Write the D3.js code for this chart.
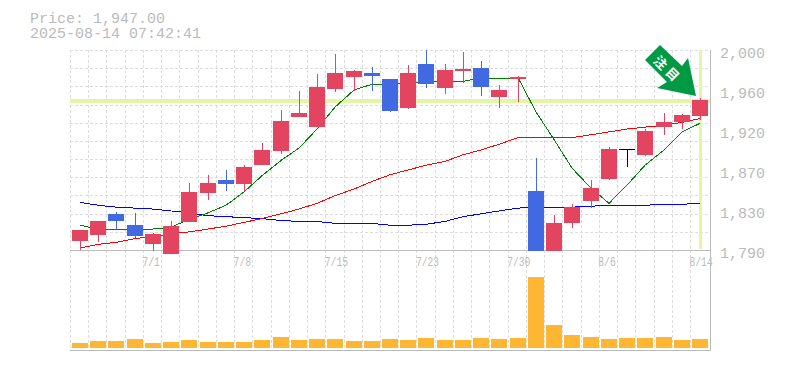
<!DOCTYPE html>
<html>
<head>
<meta charset="utf-8">
<script src="https://cdn.jsdelivr.net/npm/d3@7"></script>
<style>
  html, body { margin: 0; padding: 0; background: #fff; }
  svg { display: block; }
  text { font-family: "Liberation Mono", monospace; fill: #bbb; }
</style>
</head>
<body>
<svg id="chart" width="785" height="370"></svg>
<script>
// daily candles
const dates = ["6/25","6/26","6/27","6/30","7/1","7/2","7/3","7/4","7/7","7/8","7/9","7/10","7/11","7/14","7/15","7/16","7/17","7/18","7/22","7/23","7/24","7/25","7/28","7/29","7/30","7/31","8/1","8/4","8/5","8/6","8/7","8/8","8/12","8/13","8/14"];
const opens  = [1799,1806,1828,1816,1796,1786,1819,1850,1864,1859,1879,1894,1930,1919,1959,1972,1976,1970,1939,1985,1960,1978,1981,1951,1970,1852,1789,1818,1841,1865,1896,1890,1919,1924,1931];
const highs  = [1811,1820,1830,1829,1808,1820,1860,1869,1874,1879,1902,1937,1957,1975,1996,1979,1982,1970,1984,2000,1985,1998,1988,1963,1973,1887,1827,1838,1864,1898,1896,1917,1934,1933,1950];
const lows   = [1790,1798,1812,1803,1789,1786,1819,1842,1852,1852,1879,1891,1930,1919,1956,1957,1957,1935,1938,1960,1954,1965,1952,1939,1945,1789,1789,1813,1834,1864,1877,1889,1911,1917,1926];
const closes = [1811,1820,1820,1805,1807,1815,1851,1860,1859,1877,1895,1925,1934,1961,1976,1978,1973,1936,1976,1964,1979,1980,1961,1958,1972,1789,1818,1835,1855,1896,1896,1915,1924,1932,1947];

// moving averages
const maShort = [1816,1812,1812,1812,1812,1814,1822,1829,1837,1851,1868,1884,1897,1917,1940,1958,1964,1964,1966,1966,1967,1967,1971,1970,1971,1935,1906,1876,1855,1839,1858,1879,1895,1914,1923];
const maMid   = [1792,1796,1798,1802,1804,1807,1809,1812,1815,1819,1823,1828,1833,1839,1847,1854,1862,1869,1874,1879,1883,1890,1895,1901,1908,1908,1908,1908,1911,1914,1917,1919,1921,1924,1928];
const maLong  = [1840,1837,1835,1834,1833,1831,1829,1826,1825,1824,1823,1821,1820,1820,1818,1818,1818,1816,1816,1817,1820,1825,1828,1831,1834,1835,1835,1835,1836,1837,1837,1837,1838,1838,1839];

const volumes = [50,70,70,90,50,60,80,60,60,60,80,110,80,90,90,70,70,90,80,100,80,80,100,90,100,710,230,130,110,90,100,100,110,80,90];

const lastPrice = 1947;
const stamp = "2025-08-14 07:42:41";
const xLabels = ["7/1","7/8","7/15","7/23","7/30","8/6","8/14"];
const yTicks = [2000,1958,1916,1874,1832,1790];

// the chart dimensions
const left = 70, right = 710;
const priceTop = 50, priceBottom = 250;
const volBottom = 348, panelBottom = 350;
const candleWidth = 16;

const upColor = "#e34460";
const downColor = "#4169e1";
const gridColor = "#ddd";
const axisColor = "#bbb";
const markColor = "#e4f5a6";

const svg = d3.select("#chart");

// x is the left edge of each day's slot
const x = d3.scalePoint().domain(d3.range(dates.length)).range([left, 690]);
const y = d3.scaleLinear().domain([1790, 2000]).range([priceBottom, priceTop]);
const yVol = d3.scaleLinear().domain([0, 1000]).range([volBottom, volBottom - 100]);

const candleLeft = i => Math.round(x(i)) + 2;
const center = i => candleLeft(i) + candleWidth / 2;

// grid, dashed
const gGrid = svg.append("g")
    .attr("stroke", gridColor)
    .attr("stroke-dasharray", "3,2")
    .attr("shape-rendering", "crispEdges");

gGrid.selectAll(".v").data(d3.range(dates.length))
  .join("line").attr("class", "v")
    .attr("x1", d => Math.round(x(d)) + 0.5)
    .attr("x2", d => Math.round(x(d)) + 0.5)
    .attr("y1", priceTop).attr("y2", panelBottom);

gGrid.selectAll(".h").data(d3.range(11))
  .join("line").attr("class", "h")
    .attr("x1", left).attr("x2", right)
    .attr("y1", d => Math.round(priceTop + d * (priceBottom - priceTop) / 11) + 0.5)
    .attr("y2", d => Math.round(priceTop + d * (priceBottom - priceTop) / 11) + 0.5);

// current price and latest day markers
svg.append("rect")
    .attr("x", left).attr("width", right - left)
    .attr("y", Math.round(y(lastPrice)) - 1).attr("height", 4)
    .attr("fill", markColor);
svg.append("rect")
    .attr("x", center(dates.length - 1) - 1).attr("width", 3)
    .attr("y", priceTop).attr("height", priceBottom - priceTop - 1)
    .attr("fill", markColor);

// solid axis lines
const gAxis = svg.append("g").attr("stroke", axisColor).attr("shape-rendering", "crispEdges");
gAxis.append("line").attr("x1", left).attr("x2", right).attr("y1", priceBottom + 0.5).attr("y2", priceBottom + 0.5);
gAxis.append("line").attr("x1", left).attr("x2", right).attr("y1", panelBottom + 0.5).attr("y2", panelBottom + 0.5);
gAxis.append("line").attr("x1", right + 0.5).attr("x2", right + 0.5).attr("y1", priceTop).attr("y2", panelBottom + 1);

// moving average lines
const maLine = d3.line().x((d, i) => center(i)).y(d => y(d));
[[maLong, "#0000ff"], [maMid, "#ff0000"], [maShort, "#008000"]].forEach(([values, color]) => {
  svg.append("path")
      .attr("d", maLine(values))
      .attr("fill", "none")
      .attr("stroke", color)
      .attr("stroke-width", 1)
      .attr("shape-rendering", "crispEdges");
});

// candles
const candleColor = i => closes[i] > opens[i] ? upColor : closes[i] < opens[i] ? downColor : "#000";
const gCandle = svg.append("g").attr("shape-rendering", "crispEdges");

gCandle.selectAll("line").data(d3.range(dates.length))
  .join("line")
    .attr("x1", d => center(d) + 0.5)
    .attr("x2", d => center(d) + 0.5)
    .attr("y1", d => Math.round(y(highs[d])))
    .attr("y2", d => Math.round(y(lows[d])))
    .attr("stroke", candleColor);

gCandle.selectAll("rect").data(d3.range(dates.length))
  .join("rect")
    .attr("x", candleLeft)
    .attr("width", candleWidth)
    .attr("y", d => Math.round(y(Math.max(opens[d], closes[d]))))
    .attr("height", d => Math.max(1, Math.round(y(Math.min(opens[d], closes[d]))) - Math.round(y(Math.max(opens[d], closes[d])))))
    .attr("fill", candleColor);

// volume
svg.append("g").attr("shape-rendering", "crispEdges")
  .selectAll("rect").data(volumes)
  .join("rect")
    .attr("x", (d, i) => candleLeft(i))
    .attr("width", candleWidth)
    .attr("y", d => Math.round(yVol(d)))
    .attr("height", d => volBottom - Math.round(yVol(d)))
    .attr("fill", "#ffb733");

// price axis, labels are rounded to tens
const yAxis = svg.append("g")
    .attr("transform", `translate(720,0)`)
    .call(d3.axisRight(y).tickValues(yTicks).tickSize(0).tickPadding(0)
      .tickFormat(d => d3.format(",")(Math.round(d / 10) * 10)));
yAxis.select(".domain").remove();
yAxis.selectAll("text")
    .attr("x", 0)
    .attr("dy", 7.5)
    .attr("font-size", 15)
    .attr("font-family", "Liberation Mono")
    .attr("fill", axisColor);

// date labels
svg.append("g").selectAll("text").data(xLabels)
  .join("text")
    .attr("x", d => x(dates.indexOf(d)) - 0.5)
    .attr("y", 266)
    .attr("font-size", 13)
    .attr("textLength", d => d.length * 5.8)
    .attr("lengthAdjust", "spacingAndGlyphs")
    .text(d => d);

// header
svg.append("text").attr("x", 30).attr("y", 23).attr("font-size", 15)
    .text("Price: " + d3.format(",.2f")(lastPrice));
svg.append("text").attr("x", 30).attr("y", 38).attr("font-size", 15)
    .text(stamp);

// arrow badge pointing at the latest candle
svg.append("path")
    .attr("d", "M660,45L645,60L667,82L657,88L696,96L688,58L682,66Z")
    .attr("fill", "#009944");
[["注", 660.5, 62.5], ["目", 672.5, 74]].forEach(([ch, cx, cy]) => {
  svg.append("text")
      .attr("transform", `translate(${cx},${cy}) rotate(45)`)
      .attr("text-anchor", "middle")
      .attr("dy", "0.38em")
      .attr("font-size", 13)
      .attr("font-weight", "bold")
      .style("font-family", '"Noto Sans CJK JP"')
      .style("fill", "#fff")
      .text(ch);
});
</script>
</body>
</html>
